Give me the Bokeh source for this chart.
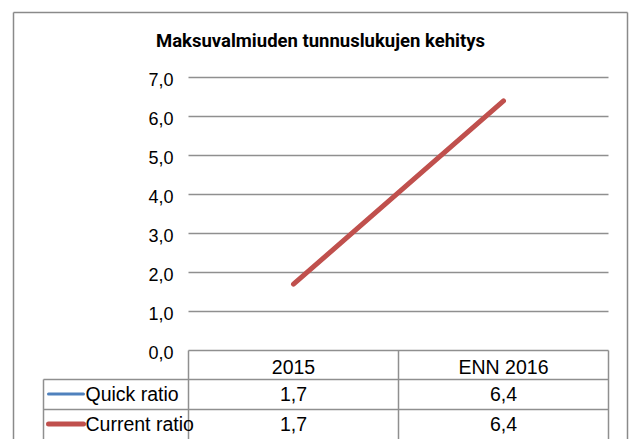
from bokeh.plotting import figure
from bokeh.models import Range1d
from bokeh.core.properties import value
from bokeh.embed import file_html
from bokeh.resources import INLINE

# ---------------- data ----------------
title_text = "Maksuvalmiuden tunnuslukujen kehitys"
categories = ["2015", "ENN 2016"]
series_names = ["Quick ratio", "Current ratio"]
quick_ratio = [1.7, 6.4]
current_ratio = [1.7, 6.4]
series_colors = ["#4F81BD", "#C0504D"]
y_ticks = [0, 1, 2, 3, 4, 5, 6, 7]
y_tick_labels = ["0,0", "1,0", "2,0", "3,0", "4,0", "5,0", "6,0", "7,0"]


def fmt(v):
    return f"{v:.1f}".replace(".", ",")


# ---------------- layout helpers (picture px -> data) ----------------
W, H = 629, 439
X0_C, XS = 293, 210   # px of first category centre, px per category
Y0_C, YS = 350, 39    # px of y=0, px per unit


def cx(px):
    return (px - X0_C) / XS


def cy(py):
    return (Y0_C - py) / YS


p = figure(width=W, height=H,
           x_range=Range1d(cx(0), cx(W)),
           y_range=Range1d(cy(H), cy(0)),
           output_backend="svg", toolbar_location=None,
           x_axis_type=None, y_axis_type=None,
           min_border=0, outline_line_color=None)
p.background_fill_color = "white"
p.border_fill_color = "white"

FONT = value("Liberation Sans")
GRID = "#8f8f8f"
n = len(categories)
xs = list(range(n))
left_edge, right_edge = -0.5, n - 0.5

# outer chart border
p.segment(x0=[cx(13), cx(13), cx(627)], y0=[cy(12), cy(12), cy(12)],
          x1=[cx(627), cx(13), cx(627)], y1=[cy(12), cy(470), cy(470)],
          line_color="#8a8a8a", line_width=1.5)

# title
p.text(x=[cx(320)], y=[cy(40)], text=[title_text],
       text_font=value("Roboto"), text_font_style="bold",
       text_font_size="18.5px", text_align="center", text_baseline="middle",
       text_color="black")

# gridlines
p.segment(x0=left_edge, y0=y_ticks[1:], x1=right_edge, y1=y_ticks[1:],
          line_color=GRID, line_width=1.5)

# y tick labels
p.text(x=[cx(173)] * len(y_ticks), y=y_ticks, text=y_tick_labels,
       text_font=FONT, text_font_size="18px", text_align="right",
       text_baseline="middle", y_offset=2, text_color="black")

# data lines
p.line(xs, quick_ratio, line_color=series_colors[0], line_width=3, line_cap="round")
p.line(xs, current_ratio, line_color=series_colors[1], line_width=5, line_cap="round")

# ---------------- data table ----------------
row_top = [350, 379, 409]  # px
bottom = cy(470)
# horizontal lines
p.segment(x0=[left_edge, cx(43), cx(43)], y0=[0, cy(379), cy(409)],
          x1=[right_edge] * 3, y1=[0, cy(379), cy(409)],
          line_color=GRID, line_width=1.5)
# vertical lines
vx = [i - 0.5 for i in range(n + 1)]
p.segment(x0=vx, y0=[0] * len(vx), x1=vx, y1=[bottom] * len(vx),
          line_color=GRID, line_width=1.5)
p.segment(x0=[cx(43)], y0=[cy(379)], x1=[cx(43)], y1=[bottom],
          line_color=GRID, line_width=1.5)

TFS = "19.5px"
# header
p.text(x=xs, y=[cy(366)] * n, text=categories, text_font=FONT,
       text_font_size=TFS, text_align="center", text_baseline="middle",
       text_color="black")
# rows
series_values = [quick_ratio, current_ratio]
key_widths = [3, 5]
for i, (name, vals) in enumerate(zip(series_names, series_values)):
    top = row_top[i + 1]
    ytxt = cy(top + 14)
    ymid = cy(top + 14.5)
    p.segment(x0=[cx(48)], y0=[ymid], x1=[cx(83)], y1=[ymid],
              line_color=series_colors[i], line_width=key_widths[i], line_cap="round")
    p.text(x=[cx(85)], y=[ytxt], text=[name], text_font=FONT, text_font_size=TFS,
           text_align="left", text_baseline="middle", text_color="black")
    p.text(x=xs, y=[ytxt] * n, text=[fmt(v) for v in vals], text_font=FONT,
           text_font_size=TFS, text_align="center", text_baseline="middle",
           text_color="black")

open("out.html", "w").write(file_html(p, INLINE))
